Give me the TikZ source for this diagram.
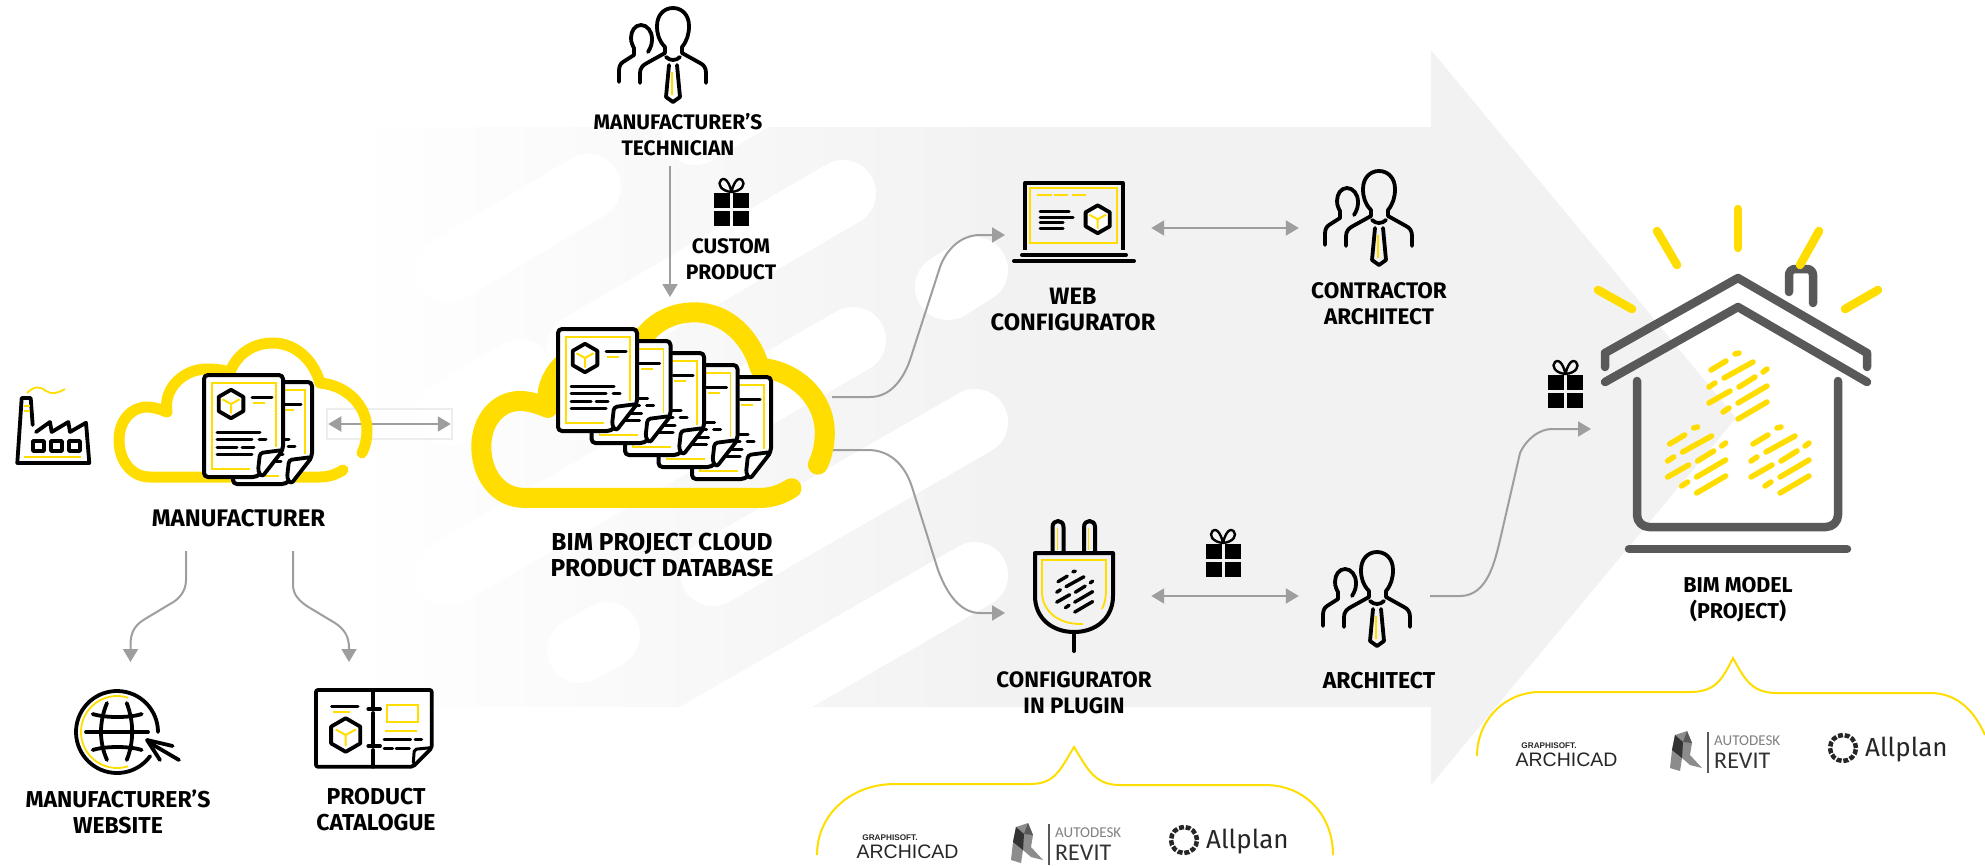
\documentclass[tikz,border=0pt]{standalone}
\usepackage{fontspec}
\setmainfont{Fira Sans}
\newfontfamily\logofont{Liberation Sans}
\newfontfamily\revitfont{Carlito}
\usetikzlibrary{arrows.meta, positioning}
\definecolor{bimyellow}{HTML}{FFDD00}
\definecolor{flowgrey}{HTML}{9E9E9E}
\definecolor{arrowgrey}{HTML}{F2F2F2}
\definecolor{housegrey}{HTML}{595959}
\tikzset{
	lbl/.style={font=\fontsize{#1}{26}\selectfont\bfseries, align=center, inner sep=0pt},
	lbl/.default=23,
	iconbox/.style={inner sep=0pt, minimum width=#1},
	band/.style={white, line width=66pt, line cap=round},
	flow/.style={flowgrey, line width=2pt, -{Triangle[length=13pt,width=15pt]}},
	twoway/.style={flowgrey, line width=2pt, {Triangle[length=13pt,width=15pt]}-{Triangle[length=13pt,width=15pt]}},
	iconline/.style={black, line width=3.8pt, line cap=round, line join=round},
	thinyellow/.style={bimyellow, line width=1.8pt},
	houseline/.style={housegrey, line width=8.5pt, line cap=round, line join=round},
	rayline/.style={bimyellow, line width=8.5pt, line cap=round},
	brace/.style={bimyellow, line width=2pt},
	cloudline/.pic={
		\draw[bimyellow, line cap=round, line join=round] (230,133) .. controls (222,138) and (215,140) .. (207,140) -- (37,140)
			.. controls (18,140) and (6,123) .. (6,103) .. controls (6,84) and (18,70) .. (34,70)
			.. controls (40,70) and (47,72) .. (54,75) .. controls (50,52) and (70,32) .. (94,32)
			.. controls (102,32) and (110,33) .. (117,35) .. controls (125,15) and (142,6) .. (160,6)
			.. controls (183,6) and (201,24) .. (207,46) .. controls (233,48) and (254,68) .. (254,93)
			.. controls (254,102) and (252,110) .. (249,116);
	},
	cube/.pic={
		\filldraw[iconline, fill=white] (0,-15) -- (13,-7.5) -- (13,7.5) -- (0,15) -- (-13,7.5) -- (-13,-7.5) -- cycle;
		\draw[thinyellow, line width=2pt] (0,10) -- (0,0) -- (-9,-5);
		\draw[thinyellow, line width=2pt] (0,0) -- (9,-5);
	},
	docpage/.pic={
		\filldraw[iconline, line width=4pt, fill=white, rounded corners=4pt] (0,0) -- (79,0) -- (79,75) -- (53,102) -- (0,102) -- cycle;
		\draw[thinyellow] (46,94) -- (8,94) -- (8,8) -- (72,8) -- (72,72);
		\pic[scale=0.95] at (27,29) {cube};
		\draw[thinyellow] (49,28) -- (61,28);
		\foreach \xa/\xb/\ya in {48/68/22,13/56/57,13/48/64,55/62/64,13/33/72,38/50/72,13/48/79}
			\draw[iconline, line width=3pt] (\xa,\ya) -- (\xb,\ya);
		\filldraw[iconline, fill=white, rounded corners=3pt] (79,75) -- (56,78) -- (54,96) -- (58,102) -- cycle;
	},
	person/.pic={
		\draw[iconline] (-33,75) -- (-33,65) .. controls (-33,60) and (-30,57) .. (-26,55) -- (-8,45) -- (-8,39)
			.. controls (-14,33) and (-16,26) .. (-16,18) .. controls (-16,7) and (-9,0) .. (0,0)
			.. controls (9,0) and (16,7) .. (16,18) .. controls (16,26) and (14,33) .. (9,39) -- (9,45)
			-- (27,55) .. controls (31,57) and (33,60) .. (33,65) -- (33,75);
		\draw[iconline] (-7,49) .. controls (-3,53) and (3,53) .. (7,49);
		\draw[iconline] (-4,57) -- (-7,89) -- (0,94) -- (7,89) -- (4,57);
		\draw[thinyellow] (-1,64) -- (-1,87);
		\draw[iconline] (-25,44) .. controls (-22,39) and (-21,36) .. (-21,31) .. controls (-21,23) and (-26,17) .. (-32,17)
			.. controls (-38,17) and (-42,23) .. (-42,30) .. controls (-42,35) and (-40,38) .. (-39,40) -- (-39,47)
			-- (-50,54) .. controls (-53,56) and (-54,59) .. (-54,63) -- (-54,74);
	},
	gift/.pic={
		\foreach \xa/\ya in {0/0,19/0,0/18,19/18}
			\fill[black] (\xa,\ya) rectangle ({\xa+16},{\ya+15});
		\draw[iconline, line width=2.4pt] (17.5,-1) .. controls (7,-2) and (3,-9) .. (7,-13) .. controls (12,-17) and (16,-8) .. (17.5,-1)
			.. controls (19,-8) and (23,-17) .. (28,-13) .. controls (32,-9) and (28,-2) .. (17.5,-1);
	},
	stripes/.pic={
		\foreach \xa/\ya/\xb/\yb in {2/0/17/-9,15/8/44/-8,26/-16/30/-17,0/17/6/13,30/17/46/7,54/2/58/-1,0/33/21/21,29/33/58/16,14/42/20/38,29/49/58/32}
			\draw[line cap=round] (\xa,\ya) -- (\xb,\yb);
	},
	cadlogos/.pic={
		\node[anchor=center, inner sep=0pt, font=\logofont\fontsize{8.2}{9}\selectfont\bfseries, text=black!85] (gsoft) at (31,14) {GRAPHISOFT.};
		\node[anchor=center, inner sep=0pt, font=\logofont\fontsize{19.5}{20}\selectfont, text=black!85] (archicad) at (48.5,28) {ARCHICAD};
		\fill[black!45] (157,3) -- (169,-1) -- (174,11) -- (172,23) -- (184,36) -- (172,33) -- (164,26) -- (162,39) -- (152,36) -- (154,18) -- cycle;
		\fill[black!80] (157,3) -- (165,10) -- (164,26) -- (154,18) -- cycle;
		\fill[black!65] (169,-1) -- (174,11) -- (165,10) -- cycle;
		\draw[black!65, line width=1.2pt] (190,0) -- (190,41);
		\node[anchor=west, inner sep=0pt, font=\revitfont\fontsize{15}{16}\selectfont, text=black!50] (autodesk) at (196,9) {AUTODESK};
		\node[anchor=west, inner sep=0pt, font=\revitfont\fontsize{24}{25}\selectfont, text=black!80] (revit) at (196,29) {REVIT};
		\draw[black!85, line width=4.5pt, dash pattern=on 5pt off 1.8pt] (325,16) circle (13pt);
		\node[anchor=west, inner sep=0pt, font=\fontsize{26}{27}\selectfont, text=black!85] (allplan) at (347,18) {Allplan};
	}
}
\begin{document}
\begin{tikzpicture}[x=1pt, y=-1pt, node distance=8pt and 8pt]
	\useasboundingbox (0,0) rectangle (1985,865);
	\begin{scope}
		\clip (350,127) -- (1431,127) -- (1431,50) -- (1736,418) -- (1431,785) -- (1431,707) -- (350,707) -- cycle;
		\fill[arrowgrey] (1000,50) rectangle (1736,785);
		\shade[left color=white, right color=arrowgrey] (350,127) rectangle (1000,707);
		\foreach \xa/\ya/\xb/\yb in {448/270/588/187,695/132/800/70,580/347/843/193,450/413/520/372,448/573/853/340,713/573/975/422,948/287/975/270,580/650/607/635,640/768/975/575}
			\draw[band] (\xa,\ya) -- (\xb,\yb);
	\end{scope}

	\node[iconbox=260, minimum height=145] (mfrcloud) at (243,409.5) {};
	\node[iconbox=360, minimum height=203] (dbcloud) at (653,405.5) {};
	\node[iconbox=146, minimum height=104] (webicon) at (1078,228) {};
	\node[iconbox=160, minimum height=92] (contractor) at (1379,228) {};
	\node[iconbox=146, minimum height=134] (plugicon) at (1078,596) {};
	\node[iconbox=160, minimum height=136] (architect) at (1379,596) {};
	\node[draw=black!7, line width=1.5pt, inner sep=0pt, minimum width=125, minimum height=30] (linkbox) at (389.5,424) {};

	\coordinate (techout) at (670,166);
	\coordinate (dbin) at (670,297);
	\coordinate (webout) at (832,397);
	\coordinate (webin) at (1005,235);
	\coordinate (plugout) at (832,450);
	\coordinate (plugin) at (1005,613);
	\coordinate (archout) at (1430,596);
	\coordinate (housein) at (1591,429);
	\coordinate (siteout) at (186,551);
	\coordinate (sitein) at (130.5,662);
	\coordinate (catout) at (293,551);
	\coordinate (catin) at (349,662);

	\draw[flow] (techout) -- (dbin);
	\foreach \from/\to in {webicon/contractor,plugicon/architect}
		\draw[twoway] (\from) -- (\to);
	\draw[twoway, shorten <=2pt, shorten >=2pt] (linkbox.west) -- (linkbox.east);
	\draw[flow] (webout) -- (870,397) .. controls (890,397) and (903,380) .. (910,360) -- (940,267) .. controls (947,248) and (962,235) .. (980,235) -- (webin);
	\draw[flow] (plugout) -- (868,450) .. controls (890,450) and (905,465) .. (912,487) -- (938,570) .. controls (948,597) and (962,613) .. (980,613) -- (plugin);
	\draw[flow] (archout) -- (1460,596) .. controls (1488,596) and (1495,560) .. (1500,540) -- (1520,453) .. controls (1527,438) and (1540,429) .. (1552,429) -- (housein);
	\draw[flow] (siteout) -- (186,580) .. controls (186,592) and (178,600) .. (170,604) -- (145,619) .. controls (135,625) and (130.5,632) .. (130.5,645) -- (sitein);
	\draw[flow] (catout) -- (293,585) .. controls (293,595) and (300,602) .. (310,608) -- (335,623) .. controls (344,629) and (349,636) .. (349,648) -- (catin);

	\pic[line width=11pt, scale=1] at (113,337) {cloudline};
	\pic[line width=20pt, scale=1.385] at (473,304) {cloudline};
	\pic at (233,382) {docpage};
	\pic at (204,375) {docpage};
	\foreach \i in {4,3,2,1,0}
		\pic at ({558+33.5*\i},{329+12*\i}) {docpage};

	\pic at (673,8) {person};
	\pic at (1379,171) {person};
	\pic at (1377,552) {person};
	\pic at (714,193) {gift};
	\pic at (1205.5,544) {gift};
	\pic at (1548,375) {gift};

	% factory
	\draw[iconline] (32.7,425) -- (30.7,398) -- (21.7,398) -- (17.3,463) -- (89.3,463) -- (86,422.7) -- (70,432) -- (68.3,422) -- (51.7,432) -- (50,422) -- (36,432);
	\foreach \xa in {33,51,69}
		\draw[iconline] (\xa,441) rectangle ({\xa+11},451);
	\draw[thinyellow] (27,393) .. controls (34,386) and (40,386) .. (46,391) .. controls (52,395) and (58,393) .. (65,389);
	\foreach \ya in {406,411}
		\draw[thinyellow] (24,\ya) -- (30,\ya);
	\draw[thinyellow] (24,457) -- (81,457);

	% globe
	\draw[iconline] plot[domain=0:324, samples=60] ({117+41*cos(\x)},{732-41*sin(\x)});
	\draw[thinyellow] plot[domain=72:288, samples=50] ({117+36*cos(\x)},{732-36*sin(\x)});
	\draw[iconline] (86,732) -- (148,732);
	\draw[iconline] (92.7,714) .. controls (105,718) and (130,718) .. (141.7,714);
	\draw[iconline] (92.7,750) .. controls (105,746) and (130,746) .. (141.7,750);
	\draw[iconline] (107,703) .. controls (99,722) and (99,742) .. (107,760);
	\draw[iconline] (126.7,703) .. controls (134,722) and (134,742) .. (126.7,760);
	\draw[iconline] (172.7,746) -- (147,740) -- (160,760);
	\draw[iconline] (150,743) -- (179,760);

	% catalogue
	\draw[iconline, rounded corners=2pt] (373.3,690) -- (316,690) -- (316,766.7) -- (413,766.7) -- (431.7,748) -- (431.7,690) -- (373.3,690);
	\draw[iconline, line width=3pt, rounded corners=2pt] (431,747.7) -- (414.3,749.3) -- (413.3,763);
	\foreach \ya/\yb in {690/707,713/744,750/766.7}
		\draw[iconline] (373.3,\ya) -- (373.3,\yb);
	\foreach \ya in {709,746}
		\draw[iconline] (368.3,\ya) -- (380,\ya);
	\draw[iconline, line width=3pt] (331.7,706.7) -- (358,706.7);
	\draw[thinyellow] (332.7,711.7) -- (350,711.7);
	\pic[scale=1.12] at (345.7,735) {cube};
	\draw[thinyellow] (386.7,705) rectangle (418.3,721.7);
	\draw[thinyellow] (385,731) -- (416.7,731);
	\foreach \xa/\xb/\ya in {384/410.7/739.3,415/421.7/739.3,384/392.7/748.3,396/409.3/748.3}
		\draw[iconline, line width=3pt] (\xa,\ya) -- (\xb,\ya);

	% laptop
	\draw[iconline, line cap=butt, line width=4pt] (1025,250) -- (1025,183) -- (1122.5,183) -- (1122.5,250);
	\draw[iconline, line width=4pt] (1022,255) -- (1126,255);
	\draw[iconline, line width=4pt] (1014,261) -- (1134,261);
	\draw[thinyellow] (1030,188) rectangle (1117,243);
	\foreach \xa/\xb in {1037/1052,1054/1068,1072/1086}
		\draw[thinyellow] (\xa,194.7) -- (\xb,194.7);
	\foreach \xa/\xb/\ya in {1040/1069/211,1040/1073/217,1040/1063/222.7,1040/1063/228}
		\draw[iconline, line width=3pt] (\xa,\ya) -- (\xb,\ya);
	\pic[scale=0.93] at (1097.7,219.3) {cube};

	% plug
	\draw[iconline, line width=4pt] (1052.5,551) -- (1052.5,527) .. controls (1052.5,519) and (1063.5,519) .. (1063.5,527) -- (1063.5,551);
	\draw[iconline, line width=4pt] (1084,551) -- (1084,527) .. controls (1084,519) and (1095,519) .. (1095,527) -- (1095,551);
	\foreach \xa in {1057.5,1088.5}
		\draw[thinyellow] (\xa,528) -- (\xa,550);
	\draw[iconline, line width=4pt] (1035,553) -- (1113,553) -- (1113,596) .. controls (1113,618) and (1096,632) .. (1074,632) .. controls (1052,632) and (1035,618) .. (1035,596) -- cycle;
	\draw[iconline, line width=4pt] (1074,632) -- (1074,651);
	\draw[thinyellow] (1102,609) .. controls (1105,603) and (1106,597) .. (1106,590) -- (1106,560) -- (1042,560) -- (1042,592) .. controls (1042,612) and (1060,625) .. (1083,624);
	\pic[black, line width=3.4pt, scale=0.62] at (1056.7,581.7) {stripes};

	% house
	\draw[houseline] (1605,367) -- (1605,353) -- (1738,278) -- (1867,353) -- (1867,367);
	\draw[houseline] (1605,382) -- (1738,307) -- (1867,382);
	\draw[houseline, rounded corners=12pt] (1637,381) -- (1637,527) -- (1838,527) -- (1838,381);
	\draw[houseline] (1629,549) -- (1847,549);
	\draw[houseline, rounded corners=6pt] (1789,292) -- (1789,269) -- (1813,269) -- (1813,303);
	\foreach \xa/\ya/\xb/\yb in {1738/209/1738/248,1657/231/1677/265,1819/231/1800/265,1598/290/1632/309,1878/290/1845/309}
		\draw[rayline] (\xa,\ya) -- (\xb,\yb);
	\foreach \xs/\ys in {1709/370,1667.6/444,1751/444}
		\pic[bimyellow, line width=5.5pt] at (\xs,\ys) {stripes};

	% braces
	\draw[brace] (817,855) .. controls (817,815) and (850,784) .. (895,784) -- (1030,784) .. controls (1055,784) and (1060,770) .. (1074,747) .. controls (1088,770) and (1095,785) .. (1120,785) -- (1265,785) .. controls (1305,785) and (1333,815) .. (1333,855);
	\draw[brace] (1477,756) .. controls (1477,720) and (1505,692) .. (1540,692) -- (1690,692) .. controls (1715,692) and (1722,680) .. (1733,658) .. controls (1745,680) and (1752,693) .. (1777,693) -- (1930,693) .. controls (1955,693) and (1973,708) .. (1985,735);
	\pic (plugincad) at (859,824) {cadlogos};
	\pic (housecad) at (1518,732) {cadlogos};

	% labels
	\node[lbl=24] (mfrlabel) at (238.5,518) {MANUFACTURER};
	\node[lbl=21] (techlabel) at (678,135) {MANUFACTURER'S\\TECHNICIAN};
	\node[lbl=21] (customlabel) at (731,259) {CUSTOM\\PRODUCT};
	\node[lbl=24.5] (dblabel) at (662,555) {BIM PROJECT CLOUD\\PRODUCT DATABASE};
	\node[lbl=23.7, below =of webicon, xshift=-5pt] (weblabel) {WEB\\CONFIGURATOR};
	\node[lbl=22.5, below =of contractor] (contractorlabel) {CONTRACTOR\\ARCHITECT};
	\node[lbl=22.3, below =of plugicon, xshift=-4pt] (pluglabel) {CONFIGURATOR\\IN PLUGIN};
	\node[lbl, below =of architect] (architectlabel) {ARCHITECT};
	\node[lbl=21.5] (modellabel) at (1738,600) {BIM MODEL\\(PROJECT)};
	\node[lbl] (sitelabel) at (118,812) {MANUFACTURER'S\\WEBSITE};
	\node[lbl] (catlabel) at (376,810) {PRODUCT\\CATALOGUE};
\end{tikzpicture}
\end{document}
